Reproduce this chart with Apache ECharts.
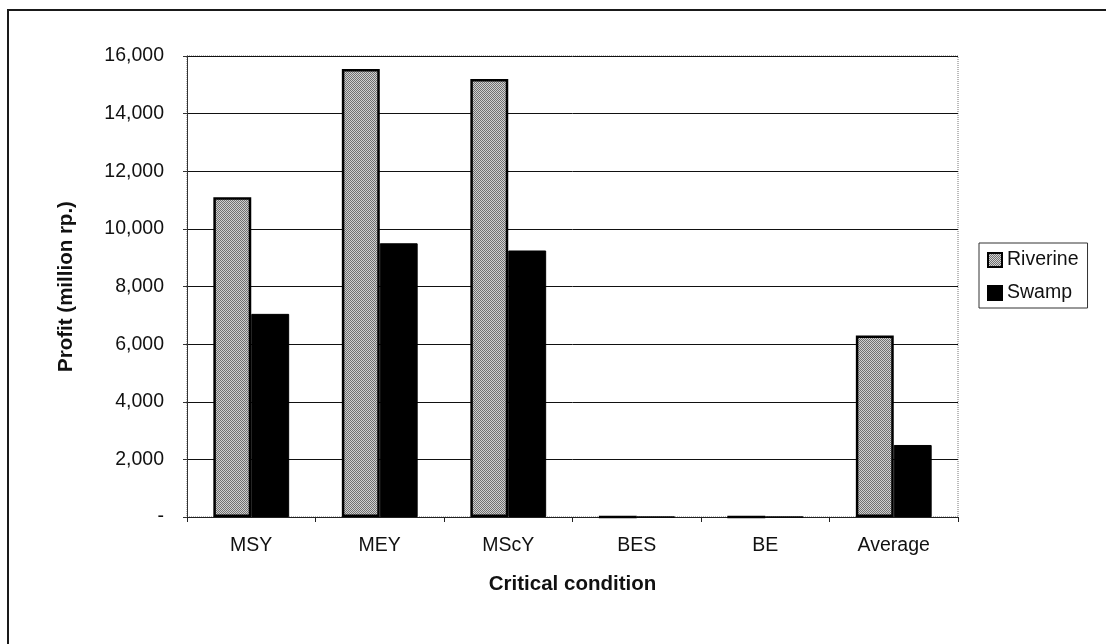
<!DOCTYPE html>
<html>
<head>
<meta charset="utf-8">
<script src="https://cdn.jsdelivr.net/npm/echarts@6/dist/echarts.min.js"></script>
<style>
  html, body { margin: 0; padding: 0; background: #fff; }
  #chart { width: 1106px; height: 644px; }
</style>
</head>
<body>
<div id="chart"></div>
<script>
// Profit at each critical condition, million rupiah
const categories = ['MSY', 'MEY', 'MScY', 'BES', 'BE', 'Average'];
const riverine = [11100, 15550, 15200, 0, 0, 6300];
const swamp = [7050, 9500, 9250, 0, 0, 2500];
const yTicks = { min: 0, max: 16000, step: 2000 };

// Stippled grey fill for the Riverine bars
function stipple() {
  const c = document.createElement('canvas');
  c.width = 2; c.height = 2;
  const g = c.getContext('2d');
  g.fillStyle = '#d0d0d0'; g.fillRect(0, 0, 2, 2);
  g.fillStyle = '#707070'; g.fillRect(0, 0, 1, 1); g.fillRect(1, 1, 1, 1);
  return c;
}
const riverineFill = { image: stipple(), repeat: 'repeat' };

const font = 'Liberation Sans, Arial, Helvetica, sans-serif';
const chart = echarts.init(document.getElementById('chart'));

chart.setOption({
  animation: false,
  backgroundColor: '#fff',
  textStyle: { fontFamily: font, color: '#111' },
  graphic: [{
    type: 'rect',
    shape: { x: 8, y: 10, width: 1200, height: 700 },
    style: { fill: 'none', stroke: '#1a1a1a', lineWidth: 2 },
    silent: true
  }],
  grid: { left: 187, right: 148, top: 56, bottom: 127, show: true,
          borderColor: '#777', borderWidth: 1, borderType: 'dotted' },
  legend: {
    orient: 'vertical', left: 979, top: 243,
    padding: [7, 9, 5, 8], itemGap: 13,
    borderColor: '#333', borderWidth: 1,
    itemWidth: 14, itemHeight: 14, icon: 'rect',
    textStyle: { fontSize: 19.5, fontFamily: font, color: '#111' },
    data: ['Riverine', 'Swamp']
  },
  xAxis: {
    type: 'category', data: categories,
    name: 'Critical condition', nameLocation: 'middle', nameGap: 57,
    nameTextStyle: { fontSize: 20.5, fontWeight: 'bold', fontFamily: font, color: '#111' },
    axisLine: { lineStyle: { color: '#222', width: 1 } },
    axisTick: { show: true, length: 5, lineStyle: { color: '#222' } },
    axisLabel: { fontSize: 19.5, margin: 19, color: '#111' }
  },
  yAxis: {
    type: 'value', min: yTicks.min, max: yTicks.max, interval: yTicks.step,
    name: 'Profit (million rp.)', nameLocation: 'middle', nameGap: 110,
    nameTextStyle: { fontSize: 20.5, fontWeight: 'bold', fontFamily: font, color: '#111' },
    axisLine: { show: true, lineStyle: { color: '#333', width: 1 } },
    axisTick: { show: true, length: 4, lineStyle: { color: '#333' } },
    axisLabel: {
      fontSize: 19.5, margin: 23, color: '#111',
      formatter: v => v === 0 ? '-' : v.toLocaleString('en-US')
    },
    splitLine: { lineStyle: { color: '#111', width: 1 } }
  },
  series: [
    {
      name: 'Riverine', type: 'bar', data: riverine,
      barWidth: '29.5%', barGap: '0%',
      itemStyle: { color: riverineFill, borderColor: '#000', borderWidth: 2.5 }
    },
    {
      name: 'Swamp', type: 'bar', data: swamp,
      barWidth: '29.5%',
      itemStyle: { color: '#000', borderColor: '#000', borderWidth: 1 }
    }
  ]
});
</script>
</body>
</html>
